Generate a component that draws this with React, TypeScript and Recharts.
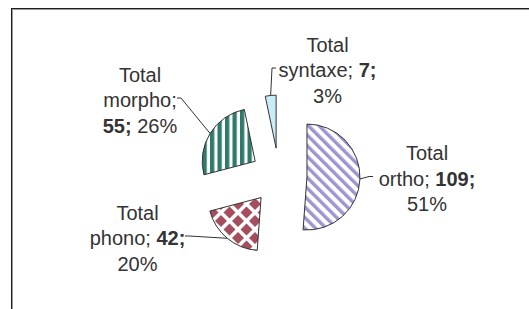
import { Pie, PieChart, Cell, Sector } from "recharts";

const categories = ["Total ortho", "Total phono", "Total morpho", "Total syntaxe"];
const values = [109, 42, 55, 7];

const fills = [
  "url(#stripeOrtho)",
  "url(#diamondPhono)",
  "url(#stripeMorpho)",
  "#c9ecf9",
];

// label block placement relative to pie center (middle line baseline),
// lead = x offset of the leader end from the label center
const labelLayout = [
  { dx: 148, dy: 9.5, lead: -54, valueInMiddle: true },
  { dx: -141.5, dy: 69, lead: 47.5, valueInMiddle: true },
  { dx: -139, dy: -69, lead: 37, valueInMiddle: false },
  { dx: 48.5, dy: -99, lead: -51.5, valueInMiddle: true },
];

const EXPLODE = 28;
const LINE_H = 25.5;
const TEXT = "#333";

const data = categories.map((name, i) => ({ name, value: values[i] }));

const renderSlice = (props: any) => {
  const rad = (-props.midAngle * Math.PI) / 180;
  return (
    <Sector
      cx={props.cx + EXPLODE * Math.cos(rad)}
      cy={props.cy + EXPLODE * Math.sin(rad)}
      innerRadius={0}
      outerRadius={props.outerRadius}
      startAngle={props.startAngle}
      endAngle={props.endAngle}
      fill={props.fill}
      stroke="#333"
      strokeWidth={1}
    />
  );
};

const renderLabel = (props: any) => {
  const { cx, cy, midAngle, outerRadius, index, name, value, percent } = props;
  const lay = labelLayout[index];
  const rad = (-midAngle * Math.PI) / 180;
  const ax = cx + (EXPLODE + outerRadius) * Math.cos(rad);
  const ay = cy + (EXPLODE + outerRadius) * Math.sin(rad);
  const x = cx + lay.dx;
  const y = cy + lay.dy;
  const ex = x + lay.lead;
  const ey = y - 9;
  const elbow = ex + Math.sign(lay.lead) * 4;
  const [first, ...rest] = String(name).split(" ");
  const pct = `${Math.round(percent * 100)}%`;
  return (
    <g>
      <polyline
        points={`${ax},${ay} ${elbow},${ey} ${ex},${ey}`}
        fill="none"
        stroke="#333"
        strokeWidth={1}
      />
      <text
        x={x}
        y={y}
        textAnchor="middle"
        fontFamily="'Liberation Sans', Arial, sans-serif"
        fontSize={20}
        fill={TEXT}
      >
        <tspan x={x} y={y - LINE_H}>
          {first}
        </tspan>
        {lay.valueInMiddle ? (
          <>
            <tspan x={x} y={y}>
              {rest.join(" ") + "; "}
              <tspan fontWeight="bold">{value + ";"}</tspan>
            </tspan>
            <tspan x={x} y={y + LINE_H}>
              {pct}
            </tspan>
          </>
        ) : (
          <>
            <tspan x={x} y={y}>
              {rest.join(" ") + ";"}
            </tspan>
            <tspan x={x} y={y + LINE_H}>
              <tspan fontWeight="bold">{value + ";"}</tspan>
              {" " + pct}
            </tspan>
          </>
        )}
      </text>
    </g>
  );
};

export default function App() {
  return (
    <div
      style={{
        position: "relative",
        width: 529,
        height: 309,
        overflow: "hidden",
        background: "#fff",
      }}
    >
      <style>{`body{margin:0}`}</style>
      <div
        style={{
          position: "absolute",
          left: 11,
          top: 8,
          width: 700,
          height: 500,
          borderTop: "1px solid #1f1f1f",
          borderLeft: "1px solid #1f1f1f",
          boxShadow: "inset 1px 1px 0 #9a9a9a",
        }}
      />
      <PieChart
        width={529}
        height={309}
        margin={{ top: 0, right: 0, bottom: 0, left: 0 }}
        style={{ position: "absolute", left: 0, top: 0 }}
      >
        <defs>
          <pattern
            id="stripeOrtho"
            width={7.5}
            height={7.5}
            patternUnits="userSpaceOnUse"
            patternTransform="rotate(-45)"
          >
            <rect width={7.5} height={7.5} fill="#fff" />
            <rect width={3.4} height={7.5} fill="#9d95d2" />
          </pattern>
          <pattern
            id="stripeMorpho"
            width={7.5}
            height={7.5}
            patternUnits="userSpaceOnUse"
          >
            <rect width={7.5} height={7.5} fill="#fff" />
            <rect width={4.3} height={7.5} fill="#2f7a6a" />
          </pattern>
          <pattern
            id="diamondPhono"
            width={17}
            height={17}
            patternUnits="userSpaceOnUse"
          >
            <rect width={17} height={17} fill="#fff" />
            <polygon points="8.5,2.5 14.5,8.5 8.5,14.5 2.5,8.5" fill="#a64d5e" />
            <polygon points="0,-6 6,0 0,6 -6,0" fill="#a64d5e" />
            <polygon points="17,-6 23,0 17,6 11,0" fill="#a64d5e" />
            <polygon points="0,11 6,17 0,23 -6,17" fill="#a64d5e" />
            <polygon points="17,11 23,17 17,23 11,17" fill="#a64d5e" />
          </pattern>
        </defs>
        <Pie
          data={data}
          dataKey="value"
          nameKey="name"
          cx={279}
          cy={176}
          outerRadius={53}
          startAngle={90}
          endAngle={-270}
          stroke="#333"
          strokeWidth={1}
          isAnimationActive={false}
          labelLine={false}
          label={renderLabel}
          shape={renderSlice}
          activeShape={renderSlice}
          inactiveShape={renderSlice}
        >
          {data.map((d, i) => (
            <Cell key={d.name} fill={fills[i]} />
          ))}
        </Pie>
      </PieChart>
    </div>
  );
}
